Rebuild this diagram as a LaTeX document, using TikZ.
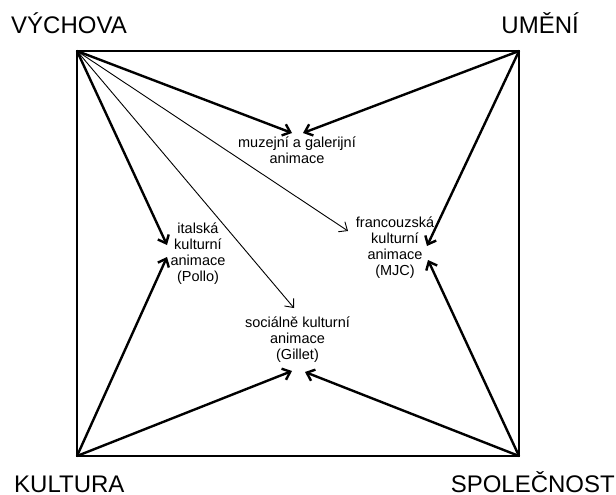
\documentclass[tikz,border=0pt]{standalone}
\usepackage{fontspec}
\setmainfont{Liberation Sans}
\usetikzlibrary{arrows.meta}

\begin{document}
\begin{tikzpicture}[x=1pt, y=-1pt,
	corner/.style = {font=\fontsize{24}{28}\selectfont, inner sep=0pt},
	kind/.style = {font=\fontsize{14.5}{16}\selectfont, align=center, inner sep=0pt, anchor=base},
	heavy/.style = {line width=2.4pt, -{Straight Barb[length=7pt, width=12pt]}},
	light/.style = {line width=0.9pt, -{Straight Barb[length=7pt, width=12pt]}}]
			\useasboundingbox (0,0) rectangle (616,495);

			\coordinate (vych) at (77,51);
			\coordinate (umeni) at (519,51);
			\coordinate (kult) at (77,456);
			\coordinate (spol) at (519,456);

			\begin{scope}
				\node[corner, anchor=base west] (vychL) at (11,34) {VÝCHOVA};
				\node[corner, anchor=base east] (umeniL) at (579,34) {UMĚNÍ};
				\node[corner, anchor=base west] (kultL) at (14,492) {KULTURA};
				\node[corner, anchor=base east] (spolL) at (615,492) {SPOLEČNOST};
			\end{scope}

			\draw[line width=1.8pt] (vych) -- (umeni) -- (spol) -- (kult) -- cycle;

			% base = baseline of the last line
			\begin{scope}
				\node[kind] (muzej) at (297,163) {muzejní a galerijní\\animace};
				\node[kind] (ital) at (198,281) {italská\\kulturní\\animace\\(Pollo)};
				\node[kind] (franc) at (395,275) {francouzská\\kulturní\\animace\\(MJC)};
				\node[kind] (soc) at (297.5,359) {sociálně kulturní\\animace\\(Gillet)};
			\end{scope}

			\begin{scope}
				\draw[heavy] (vych) -- ([shift={(-5,-30)}]muzej.base);
				\draw[heavy] (vych) -- ([shift={(-31,-36)}]ital.base);
				\draw[light] (vych) -- ([shift={(-47,-44)}]franc.base);
				\draw[light] (vych) -- ([shift={(-3.5,-51)}]soc.base);
			\end{scope}
			\begin{scope}
				\draw[heavy] (umeni) -- ([shift={(6,-30)}]muzej.base);
				\draw[heavy] (umeni) -- ([shift={(32,-29)}]franc.base);
			\end{scope}
			\begin{scope}
				\draw[heavy] (kult) -- ([shift={(-31,-24)}]ital.base);
				\draw[heavy] (kult) -- ([shift={(-5.5,12)}]soc.base);
			\end{scope}
			\begin{scope}
				\draw[heavy] (spol) -- ([shift={(33,-15)}]franc.base);
				\draw[heavy] (spol) -- ([shift={(7.5,13)}]soc.base);
			\end{scope}
		\end{tikzpicture}
\end{document}
